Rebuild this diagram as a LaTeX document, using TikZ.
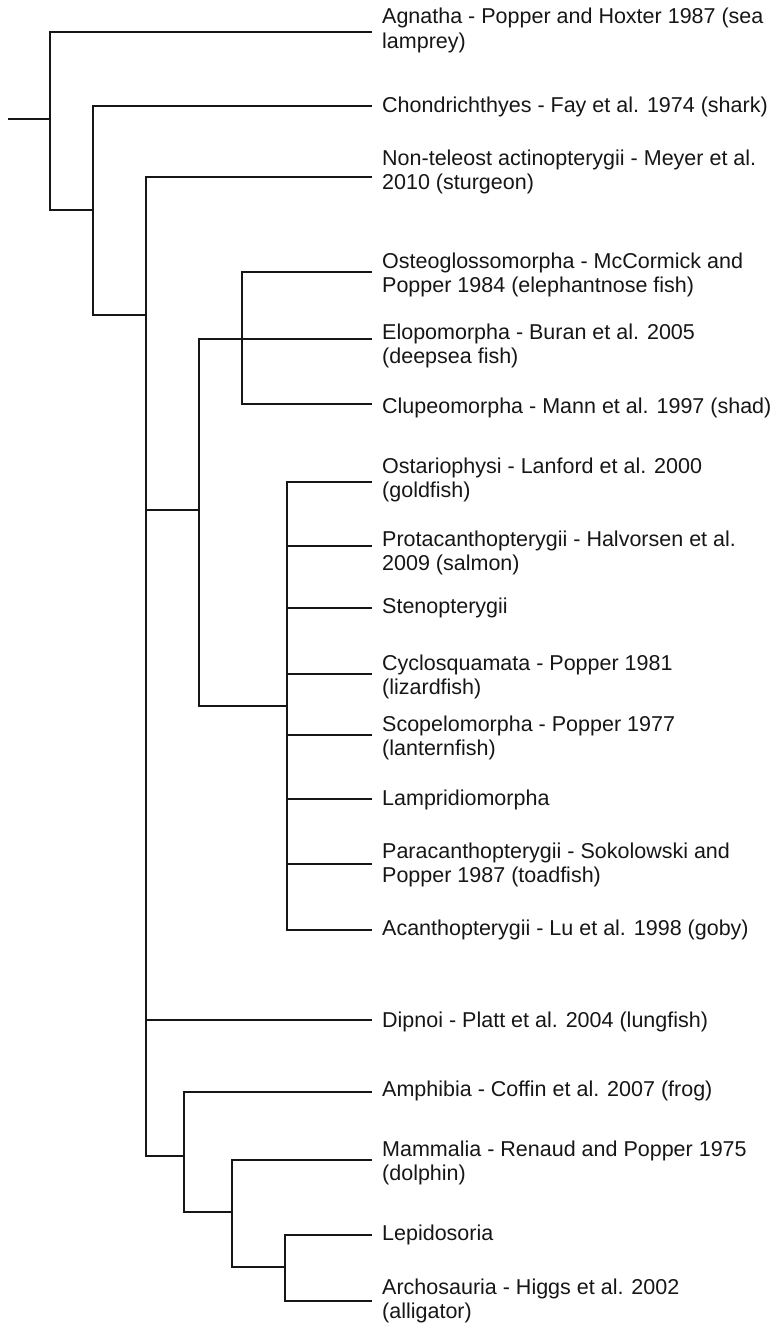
\documentclass[tikz,border=0pt]{standalone}
\usepackage{fontspec}
\setmainfont{Liberation Sans}
\definecolor{treeink}{HTML}{161616}
\tikzset{
	branch/.style={draw=treeink,line width=2.4pt},
	taxon/.style={anchor=base west,inner xsep=10pt,inner ysep=0pt,align=left,text=treeink,font=\fontsize{21.5}{24.5}\selectfont}
}

\begin{document}
\begin{tikzpicture}[x=1pt,y=-1pt]
			\useasboundingbox (0,0) rectangle (774,1326);
			\coordinate (stub) at (8,119);
			\coordinate (root) at (50,119);
			\coordinate (gnath) at (93,210);
			\coordinate (osteich) at (146,315);
			\coordinate (teleo) at (199,510);
			\coordinate (osteoclu) at (242,339);
			\coordinate (euteleo) at (287,706);
			\coordinate (tetra) at (184,1156);
			\coordinate (amnio) at (232,1212);
			\coordinate (sauria) at (285,1267);
			\coordinate (agn) at (372,32);
			\coordinate (chon) at (372,106);
			\coordinate (nonteleo) at (372,177);
			\coordinate (osteo) at (372,272);
			\coordinate (elopo) at (372,339);
			\coordinate (clupeo) at (372,404);
			\coordinate (ostar) at (372,482);
			\coordinate (protac) at (372,546);
			\coordinate (steno) at (372,608);
			\coordinate (cyclo) at (372,674);
			\coordinate (scopelo) at (372,735);
			\coordinate (lampri) at (372,799);
			\coordinate (paracan) at (372,864);
			\coordinate (acan) at (372,930);
			\coordinate (dipnoi) at (372,1020);
			\coordinate (amph) at (372,1092);
			\coordinate (mamm) at (372,1160);
			\coordinate (lepido) at (372,1235);
			\coordinate (archo) at (372,1301);
			\node[taxon] (agn-name) at ([yshift=-16pt]agn) {Agnatha - Popper and Hoxter 1987 (sea\\lamprey)};
			\node[taxon] (chon-name) at ([yshift=-6pt]chon) {Chondrichthyes - Fay et al. 1974 (shark)};
			\node[taxon] (nonteleo-name) at ([yshift=-12.5pt]nonteleo) {Non-teleost actinopterygii - Meyer et al.\\2010 (sturgeon)};
			\node[taxon] (osteo-name) at ([yshift=-20.5pt]osteo) {Osteoglossomorpha - McCormick and\\Popper 1984 (elephantnose fish)};
			\node[taxon] (elopo-name) at ([yshift=-24.5pt]elopo) {Elopomorpha - Buran et al. 2005\\(deepsea fish)};
			\node[taxon] (clupeo-name) at ([yshift=-9pt]clupeo) {Clupeomorpha - Mann et al. 1997 (shad)};
			\node[taxon] (ostar-name) at ([yshift=-15.5pt]ostar) {Ostariophysi - Lanford et al. 2000\\(goldfish)};
			\node[taxon] (protac-name) at ([yshift=-24.5pt]protac) {Protacanthopterygii - Halvorsen et al.\\2009 (salmon)};
			\node[taxon] (steno-name) at ([yshift=-5pt]steno) {Stenopterygii};
			\node[taxon] (cyclo-name) at ([yshift=-20.5pt]cyclo) {Cyclosquamata - Popper 1981\\(lizardfish)};
			\node[taxon] (scopelo-name) at ([yshift=-20.5pt]scopelo) {Scopelomorpha - Popper 1977\\(lanternfish)};
			\node[taxon] (lampri-name) at ([yshift=-6pt]lampri) {Lampridiomorpha};
			\node[taxon] (paracan-name) at ([yshift=-18.5pt]paracan) {Paracanthopterygii - Sokolowski and\\Popper 1987 (toadfish)};
			\node[taxon] (acan-name) at ([yshift=-5pt]acan) {Acanthopterygii - Lu et al. 1998 (goby)};
			\node[taxon] (dipnoi-name) at ([yshift=-7pt]dipnoi) {Dipnoi - Platt et al. 2004 (lungfish)};
			\node[taxon] (amph-name) at ([yshift=-4pt]amph) {Amphibia - Coffin et al. 2007 (frog)};
			\node[taxon] (mamm-name) at ([yshift=-20.5pt]mamm) {Mammalia - Renaud and Popper 1975\\(dolphin)};
			\node[taxon] (lepido-name) at ([yshift=-5pt]lepido) {Lepidosoria};
			\node[taxon] (archo-name) at ([yshift=-17.5pt]archo) {Archosauria - Higgs et al. 2002\\(alligator)};
			\draw[branch] (stub) -- (root);
			\draw[branch] (agn) -| (root |- gnath) -- (gnath);
			\draw[branch] (chon) -| (gnath |- osteich) -- (osteich);
			\draw[branch] (nonteleo) -| (osteich |- tetra) -- (tetra);
			\draw[branch] (osteich |- teleo) -- (teleo);
			\draw[branch] (osteich |- dipnoi) -- (dipnoi);
			\draw[branch] (elopo) -| (teleo |- euteleo) -- (euteleo);
			\draw[branch] (osteo) -| (osteoclu) |- (clupeo);
			\draw[branch] (ostar) -| (euteleo) |- (acan);
			\foreach \leaf in {protac,steno,cyclo,scopelo,lampri,paracan}
				\draw[branch] (euteleo |- \leaf) -- (\leaf);
			\draw[branch] (amph) -| (tetra |- amnio) -- (amnio);
			\draw[branch] (mamm) -| (amnio |- sauria) -- (sauria);
			\draw[branch] (lepido) -| (sauria) |- (archo);
		\end{tikzpicture}
\end{document}
